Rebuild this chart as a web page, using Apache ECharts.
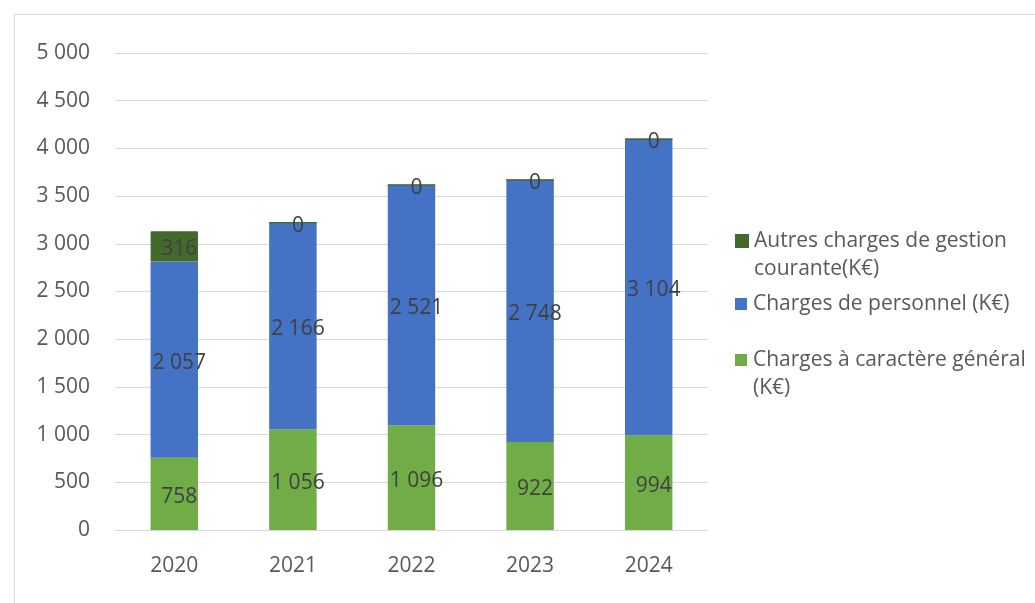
<!DOCTYPE html>
<html lang="fr">
<head>
<meta charset="utf-8">
<title>Charges de fonctionnement 2020–2024</title>
<script src="https://cdn.jsdelivr.net/npm/echarts@6/dist/echarts.min.js"></script>
<style>
  html, body { margin: 0; padding: 0; background: #ffffff; }
  #chart { width: 1035px; height: 603px; }
</style>
</head>
<body>
<div id="chart"></div>
<script>
// Années
const years = ['2020', '2021', '2022', '2023', '2024'];

// Montants en K€
const chargesGenerales = [758, 1056, 1096, 922, 994];
const chargesPersonnel = [2057, 2166, 2521, 2748, 3104];
const autresCharges = [316, 0, 0, 0, 0];

// Noms des séries
const nameAutres = 'Autres charges de gestion courante(K€)';
const namePersonnel = 'Charges de personnel (K€)';
const nameGenerales = 'Charges à caractère général (K€)';

// Libellés de légende (retour à la ligne)
const legendText = {};
legendText[nameAutres] = 'Autres charges de gestion\ncourante(K€)';
legendText[namePersonnel] = 'Charges de personnel (K€)';
legendText[nameGenerales] = 'Charges à caractère général\n(K€)';

const FONT = 'Open Sans';
const fmt = v => String(v).replace(/\B(?=(\d{3})+(?!\d))/g, ' ');

const labelStyle = {
  show: true,
  position: 'inside',
  offset: [5, 3],
  color: '#404040',
  fontFamily: FONT,
  fontSize: 21,
  formatter: p => fmt(p.value)
};

function legendFor(name, top) {
  const lines = legendText[name].split('\n');
  // blank leading line keeps the icon level with the first line of text
  const text = lines.length > 1 ? '\n' + legendText[name] : legendText[name];
  return {
    data: [name],
    orient: 'vertical',
    left: 735,
    top: top,
    padding: 0,
    icon: 'rect',
    itemWidth: 12,
    itemHeight: 12,
    selectedMode: false,
    formatter: () => text,
    textStyle: {
      color: '#595959',
      fontFamily: FONT,
      fontSize: 21,
      lineHeight: 28,
      padding: [0, 0, 0, 1]
    }
  };
}

const chart = echarts.init(document.getElementById('chart'), null, { renderer: 'canvas' });

chart.setOption({
  animation: false,
  backgroundColor: '#ffffff',
  graphic: [{
    type: 'rect',
    left: 12,
    top: 12,
    shape: { width: 1100, height: 700 },
    style: { fill: 'none', stroke: '#d9d9d9', lineWidth: 1 },
    silent: true,
    z: -1
  }],
  legend: [
    legendFor(nameAutres, 199),
    legendFor(namePersonnel, 290),
    legendFor(nameGenerales, 318)
  ],
  grid: { left: 115, right: 327, top: 53, bottom: 73, containLabel: false },
  xAxis: {
    type: 'category',
    data: years,
    axisTick: { show: false },
    axisLine: { lineStyle: { color: '#d9d9d9', width: 1 } },
    axisLabel: { color: '#595959', fontFamily: FONT, fontSize: 21, margin: 26 }
  },
  yAxis: {
    type: 'value',
    min: 0,
    max: 5000,
    interval: 500,
    axisLine: { show: false },
    axisTick: { show: false },
    splitLine: { lineStyle: { color: '#d9d9d9', width: 1 } },
    axisLabel: { color: '#595959', fontFamily: FONT, fontSize: 21, margin: 25, formatter: v => fmt(v) }
  },
  series: [
    {
      name: nameGenerales,
      type: 'bar',
      stack: 'total',
      barWidth: '40%',
      data: chargesGenerales,
      itemStyle: { color: '#70AD47' },
      label: labelStyle
    },
    {
      name: namePersonnel,
      type: 'bar',
      stack: 'total',
      data: chargesPersonnel,
      itemStyle: { color: '#4472C4' },
      label: labelStyle
    },
    {
      name: nameAutres,
      type: 'bar',
      stack: 'total',
      data: autresCharges,
      itemStyle: { color: '#44692D', borderColor: '#44692D', borderWidth: 1 },
      label: labelStyle
    }
  ]
});
</script>
</body>
</html>
